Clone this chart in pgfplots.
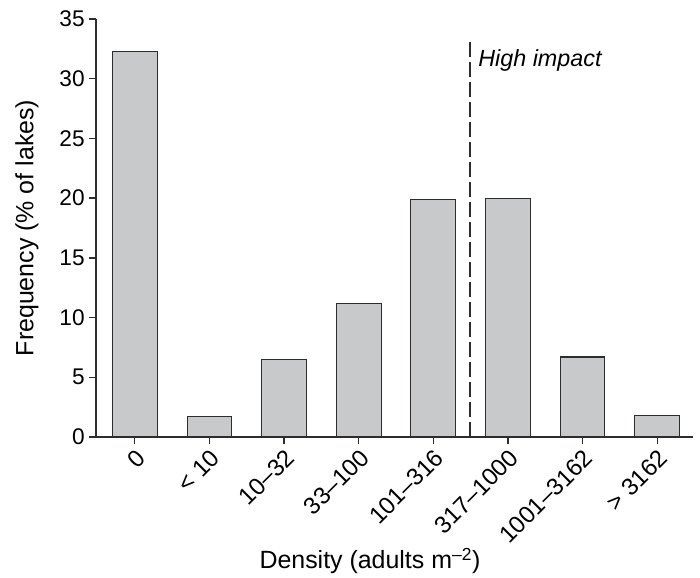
\documentclass[border=0pt]{standalone}
\usepackage{fontspec}
\setmainfont{Liberation Sans}
\usepackage{pgfplots}
\pgfplotsset{compat=1.18}
\definecolor{barfill}{RGB}{200,201,203}
\definecolor{edge}{RGB}{45,45,45}
\begin{document}
\begin{tikzpicture}
\begin{axis}[
    scale only axis,
    width=447.75pt, height=313.5pt,
    xmin=-0.52, xmax=7.48,
    ymin=0, ymax=35,
    axis x line*=bottom, axis y line*=left,
    axis line style={edge, line width=1pt},
    tick style={edge, line width=1pt},
    tick align=outside,
    major tick length=5pt,
    xtick={0,...,7},
    xticklabels={0, {< 10}, 10–32, 33–100, 101–316, 317–1000, 1001–3162, {> 3162}},
    xticklabel style={rotate=45, anchor=north east, inner sep=2pt, font=\fontsize{18}{21}\selectfont},
    ytick={0,5,...,35},
    yticklabel style={font=\fontsize{17}{20}\selectfont},
    label style={font=\fontsize{18.7}{22}\selectfont},
    ylabel={Frequency (\% of lakes)},
    xlabel={Density (adults m\textsuperscript{–2})},
    ylabel style={at={(axis description cs:-0.1156,0.5)}, anchor=center},
    xlabel style={at={(axis description cs:0.459,-0.297)}, anchor=center},
    /pgf/number format/assume math mode=true,
  ]
  % bars
  \addplot[ybar, bar width=0.6, fill=barfill, draw=edge, line width=0.8pt]
    coordinates {(0,32.3) (1,1.7) (2,6.5) (3,11.2) (4,19.9) (5,20.0) (6,6.7) (7,1.8)};

  % high impact threshold
  \addplot[edge, line width=2pt, dash pattern=on 11pt off 4pt]
    coordinates {(4.49,0) (4.49,33.1)};
  \node[anchor=base west, font=\fontsize{17.5}{20}\selectfont\itshape, inner sep=0pt]
    at (axis cs:4.6,31.0) {High impact};

  \coordinate (ll) at (rel axis cs:0,0);
  \coordinate (ur) at (rel axis cs:1,1);
\end{axis}
\pgfresetboundingbox
\path ([shift={(-72pt,-105pt)}]ll) rectangle ([shift={(5.25pt,14.25pt)}]ur);
\end{tikzpicture}
\end{document}
